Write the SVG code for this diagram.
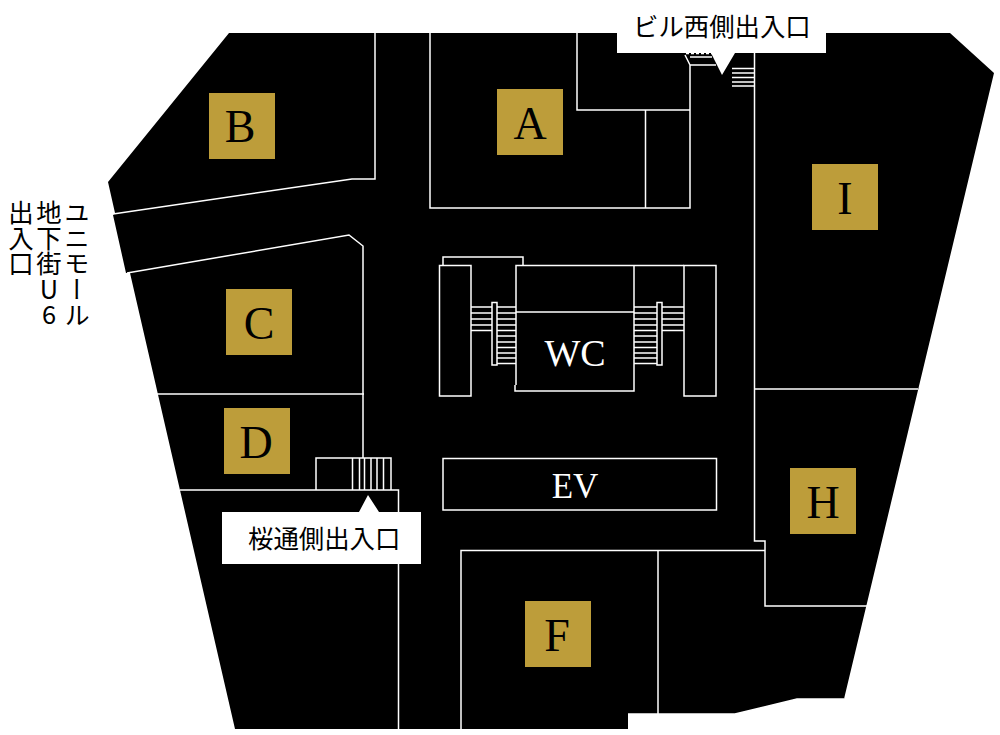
<svg xmlns="http://www.w3.org/2000/svg" width="1000" height="735" viewBox="0 0 1000 735">
<style>
.w{fill:none;stroke:#fff;stroke-width:1.5}
.g{fill:#bd9d3a}
.l{font-family:"Liberation Serif",serif;font-size:46px;fill:#000;text-anchor:middle}
.c{font-family:"Liberation Serif",serif;font-size:38px;fill:#fff;text-anchor:middle}
.j{font-family:"Noto Sans CJK JP",sans-serif;font-size:25.400px;fill:#000}
.v{font-family:"Noto Sans CJK JP",sans-serif;font-size:25.400px;fill:#000;writing-mode:vertical-rl;text-orientation:upright}
</style>
<rect width="1000" height="735" fill="#fff"/>
<path id="floor" d="M229 33H950L994 73L844 699H797L735 714H628V729H235L130 273H126L113 215L115 213L108 182Z" fill="#000"/>
<g id="walls">
<path class="w" d="M113 214L352 179H375V33"/>
<path class="w" d="M127 273L349 235L363 246V458"/>
<path class="w" d="M157 394H364"/>
<path class="w" d="M180 490H398.500V729"/>
<path class="w" d="M316 490V458H391V490"/>
<path class="w" d="M352.500 458V490M359.500 458V490M364.500 458V490M371 458V490M377 458V490M383.500 458V490"/>
<path class="w" d="M430 33V208H690V65M577 33V110H690M645.500 110V208"/>
<path class="w" d="M690 65H716M685 55L690 65M690 57H712"/>
<path class="w" stroke-dasharray="3 2" d="M686 53.500H712"/>
<path class="w" d="M732 68.500H754M732 73H754M732 77.500H754M732 82H754M732 86H754"/>
<path class="w" d="M754.500 53V541H765V606H867M754 389H918"/>
<path class="w" d="M461 729V550.500H765M658 550V714"/>
<path class="w" d="M628 714H735L797 699H844"/>
</g>
<g id="core">
<path class="w" d="M439.500 265.500H471V396H439.500Z"/>
<path class="w" d="M443 265V257H523V265"/>
<path class="w" d="M516 385V265.500H684M516 312H634M634 265.500V391H515V385"/>
<path class="w" d="M684 265.500H716V396H684Z"/>
<path class="w" d="M492 302.500H497V365H492Z"/>
<path class="w" d="M657 302.500H662V365H657Z"/>
<path class="w" d="M471 307H492M471 313H492M471 319H492M471 325H492M471 330.500H492"/>
<path class="w" d="M662 307H684M662 313H684M662 319H684M662 325H684M662 330.500H684"/>
<path class="w" d="M497 307H516M497 313H516M497 319H516M497 325H516M497 330.500H516M497 336H516M497 342H516M497 347.500H516M497 353H516M497 358H516M497 363.500H516"/>
<path class="w" d="M634 307H657M634 313H657M634 319H657M634 325H657M634 330.500H657M634 336H657M634 342H657M634 347.500H657M634 353H657M634 358H657M634 363.500H657"/>
<text class="c" x="575" y="366">WC</text>
</g>
<g id="ev"><rect class="w" x="443" y="458.500" width="273.500" height="51.500"/><text class="c" x="575" y="498" style="font-size:35px">EV</text></g>
<g id="shop-a"><rect class="g" x="497" y="89" width="66" height="66"/><text class="l" x="530" y="139">A</text></g>
<g id="shop-b"><rect class="g" x="209" y="93" width="66" height="66"/><text class="l" x="240" y="142">B</text></g>
<g id="shop-c"><rect class="g" x="226" y="289" width="66" height="66"/><text class="l" x="259" y="339">C</text></g>
<g id="shop-d"><rect class="g" x="224" y="408" width="66" height="66"/><text class="l" x="256" y="458">D</text></g>
<g id="shop-f"><rect class="g" x="525" y="601" width="66" height="66"/><text class="l" x="557" y="651">F</text></g>
<g id="shop-h"><rect class="g" x="790" y="468" width="66" height="66"/><text class="l" x="823" y="518">H</text></g>
<g id="shop-i"><rect class="g" x="812" y="164" width="66" height="66"/><text class="l" x="845" y="214">I</text></g>
<g id="label-west">
<path d="M617 0H826V53H735L722 75L711 53H617Z" fill="#fff"/>
<text class="j" x="633" y="36">ビル西側出入口</text>
</g>
<g id="label-sakura">
<path d="M222 512H359L368 495L379 512H421V564H222Z" fill="#fff"/>
<text class="j" x="248" y="548">桜通側出入口</text>
</g>
<g id="label-umi">
<text class="v" x="77" y="200">ユニモール</text>
<text class="v" x="49" y="200">地下街U6</text>
<text class="v" x="21" y="200">出入口</text>
</g>
</svg>
